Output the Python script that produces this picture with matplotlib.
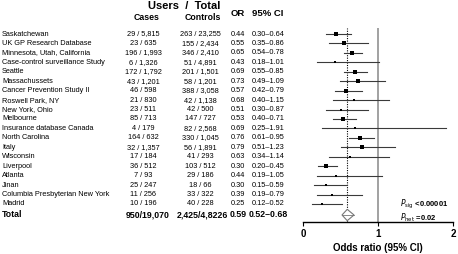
import matplotlib.pyplot as plt
import matplotlib.transforms as mtransforms
import numpy as np

plt.rcParams['font.family'] = ['Liberation Sans', 'DejaVu Sans']

studies = ['Saskatchewan', 'UK GP Research Database', 'Minnesota, Utah, California',
           'Case-control surveillance Study', 'Seattle', 'Massachussets',
           'Cancer Prevention Study II', 'Roswell Park, NY', 'New York, Ohio',
           'Melbourne', 'Insurance database Canada', 'North Carolina', 'Italy',
           'Wisconsin', 'Liverpool', 'Atlanta', 'Jinan',
           'Columbia Presbyterian New York', 'Madrid']
cases = ['29 / 5,815', '23 / 635', '196 / 1,993', '6 / 1,326', '172 / 1,792',
         '43 / 1,201', '46 / 598', '21 / 830', '23 / 511', '85 / 713', '4 / 179',
         '164 / 632', '32 / 1,357', '17 / 184', '36 / 512', '7 / 93', '25 / 247',
         '11 / 256', '10 / 196']
controls = ['263 / 23,255', '155 / 2,434', '346 / 2,410', '51 / 4,891', '201 / 1,501',
            '58 / 1,201', '388 / 3,058', '42 / 1,138', '42 / 500', '147 / 727',
            '82 / 2,568', '330 / 1,045', '56 / 1,891', '41 / 293', '103 / 512',
            '29 / 186', '18 / 66', '33 / 322', '40 / 228']
odds = [0.44, 0.55, 0.65, 0.43, 0.69, 0.73, 0.57, 0.68, 0.51, 0.53, 0.69, 0.76,
        0.79, 0.63, 0.30, 0.44, 0.30, 0.39, 0.25]
ci_low = [0.30, 0.35, 0.54, 0.18, 0.55, 0.49, 0.42, 0.40, 0.30, 0.40, 0.25, 0.61,
          0.51, 0.34, 0.20, 0.19, 0.15, 0.19, 0.12]
ci_high = [0.64, 0.86, 0.78, 1.01, 0.85, 1.09, 0.79, 1.15, 0.87, 0.71, 1.91, 0.95,
           1.23, 1.14, 0.45, 1.05, 0.59, 0.79, 0.52]

total_cases = '950/19,070'
total_controls = '2,425/4,8226'
total_or = 0.59
total_low = 0.52
total_high = 0.68
p_sig = '<0.00001'
p_het = '=0.02'

W, H = 458, 254
fig = plt.figure(figsize=(W / 100, H / 100), dpi=100)
ax = fig.add_axes([303 / W, 32 / H, 150 / W, 194 / H])

step = 9.44
ys = -np.arange(len(studies), dtype=float)
y_total = -(len(studies) - 1) - 11 / step
ax.set_xlim(0, 2)
ax.set_ylim(-(len(studies) - 1) - 18 / step, 6 / step)

# reference lines
ax.axvline(1, color='#9a9a9a', lw=1.3, zorder=1)
ax.axvline(total_or, color='black', lw=0.8, ls=(0, (1, 1.2)), zorder=1)

# study estimates, square size from inverse variance
se = (np.log(ci_high) - np.log(ci_low)) / 3.92
side = 1.8 + 0.3 * np.sqrt(1 / se ** 2)
for y, o, lo, hi, s in zip(ys, odds, ci_low, ci_high, side):
    ax.plot([lo, hi], [y, y], color='#3a3a3a', lw=0.8, zorder=2)
    ax.plot(o, y, marker='s', color='black', ms=s * 0.72, mew=0, zorder=3)

# pooled diamond
dh = 0.6
ax.fill([total_low, total_or, total_high, total_or],
        [y_total, y_total + dh, y_total, y_total - dh],
        facecolor='white', edgecolor='#777777', lw=0.8, zorder=3)
ax.plot([total_low, total_high], [y_total, y_total], color='#777777', lw=0.6, zorder=4)

for side_name in ['left', 'right', 'top']:
    ax.spines[side_name].set_visible(False)
ax.spines['bottom'].set_linewidth(1.0)
ax.set_yticks([])
ax.set_xticks([0, 1, 2])
ax.set_xticklabels(['0', '1', '2'], fontsize=7, fontweight='bold')
ax.tick_params(axis='x', length=3, width=0.8, pad=2)
ax.set_xlabel('Odds ratio (95% CI)', fontsize=7, fontweight='bold', labelpad=3)

p_text = (r'$\it{P}_{\rm sig}$ ' + p_sig + '\n' + r'$\it{P}_{\rm het}$ ' + p_het)
ax.text(1.29, y_total + 0.45, p_text, fontsize=5.5, fontweight='bold',
        va='center', ha='left', linespacing=1.0)

# table columns
tr = mtransforms.blended_transform_factory(fig.transFigure, ax.transData)
fs = 5.3
for y, name, ca, co, o, lo, hi in zip(ys, studies, cases, controls, odds, ci_low, ci_high):
    ax.text(2 / W, y, name, transform=tr, fontsize=fs, va='center', ha='left')
    ax.text(143 / W, y, ca, transform=tr, fontsize=fs, va='center', ha='center')
    ax.text(200 / W, y, co, transform=tr, fontsize=fs, va='center', ha='center')
    ax.text(238 / W, y, f'{o:.2f}', transform=tr, fontsize=fs, va='center', ha='center')
    ax.text(268 / W, y, f'{lo:.2f}\u2013{hi:.2f}', transform=tr, fontsize=fs,
            va='center', ha='center')

fs_t = 6.3
ax.text(2 / W, y_total, 'Total', transform=tr, fontsize=fs_t, fontweight='bold',
        va='center', ha='left')
ax.text(148 / W, y_total, total_cases, transform=tr, fontsize=fs_t, fontweight='bold',
        va='center', ha='center')
ax.text(202 / W, y_total, total_controls, transform=tr, fontsize=fs_t, fontweight='bold',
        va='center', ha='center')
ax.text(238 / W, y_total, f'{total_or:.2f}', transform=tr, fontsize=fs_t,
        fontweight='bold', va='center', ha='center')
ax.text(268 / W, y_total, f'{total_low:.2f}\u2013{total_high:.2f}', transform=tr,
        fontsize=fs_t, fontweight='bold', va='center', ha='center')

# headers
fig.text(184 / W, 1 - 6 / H, 'Users  /  Total', fontsize=8, fontweight='bold',
         ha='center', va='center')
fig.text(147 / W, 1 - 17 / H, 'Cases', fontsize=6.3, fontweight='bold',
         ha='center', va='center')
fig.text(203 / W, 1 - 17 / H, 'Controls', fontsize=6.3, fontweight='bold',
         ha='center', va='center')
fig.text(238 / W, 1 - 13 / H, 'OR', fontsize=6.8, fontweight='bold',
         ha='center', va='center')
fig.text(268 / W, 1 - 13 / H, '95% CI', fontsize=6.8, fontweight='bold',
         ha='center', va='center')

fig.savefig('out.png', dpi=100)
